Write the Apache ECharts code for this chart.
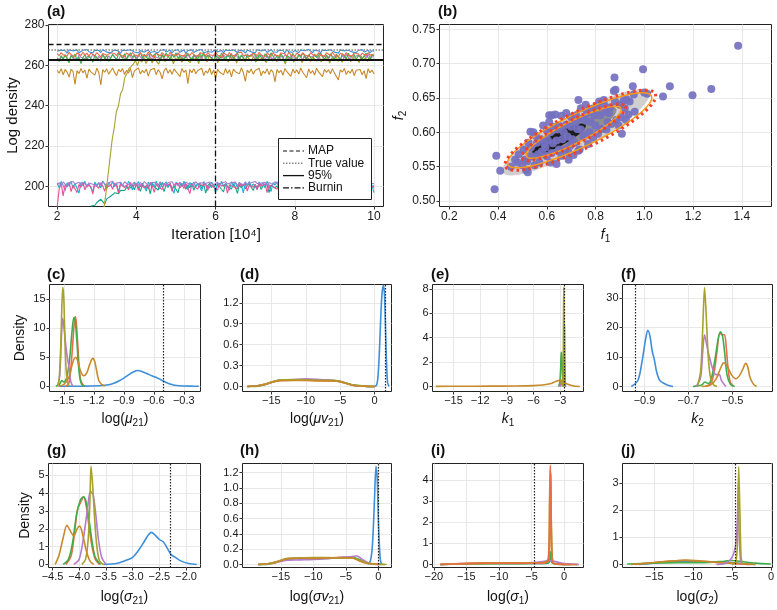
<!DOCTYPE html>
<html><head><meta charset="utf-8">
<script src="https://cdn.jsdelivr.net/npm/echarts@6/dist/echarts.min.js"></script>
<style>html,body{margin:0;padding:0;background:#fff}#c{width:777px;height:610px}</style>
</head><body><div id="c"></div>
<script>
// ---------- colours ----------
const COL = {blue:'#3D8FDA', red:'#EE6B47', green:'#3FAE4A', purple:'#B57BCD', olive:'#A6A22C', ochre:'#C78A2A',
  cyan:'#1BB3D0', pink:'#EA4F98', teal:'#11A586', lpurple:'#A57CD5'};
const F = 'Liberation Sans, Arial, sans-serif';

// ---------- (a) trace values, iterations 2..10 (x10^4) evenly sampled ----------
const traceBlue = [267.1,266.4,267.6,266.8,267.3,266.1,267.8,266.9,267.2,266.5,267.7,266.3,267.0,267.5,266.6,267.9,266.8,267.3,266.2,267.6,
266.9,267.4,266.4,267.8,267.0,266.6,267.5,266.3,267.2,267.7,266.8,267.1,266.0,267.6,266.9,267.4,266.5,267.8,267.1,266.7,
267.5,266.2,267.3,267.8,266.6,267.0,267.6,266.4,267.2,266.9,267.7,266.3,267.4,266.8,267.9,266.6,267.1,267.5,266.2,267.3,
266.9,267.8,266.5,267.2,267.6,266.1,267.4,266.8,267.7,266.4,267.0,267.5,266.7,267.9,266.3,267.2,266.9,267.6,266.5,267.3,
267.8,266.6,267.1,267.4,266.2,267.7,266.9,267.3,266.5,267.8,267.0,266.4,267.5,266.8,267.2,266.1,267.6,267.0,266.7,267.4,
266.3,267.8,266.9,267.2,266.6,267.7,266.4,267.3,267.9,266.8,267.1,266.5,267.6,266.9,267.4,266.2,267.8,266.7,267.2,266.5,
267.5,267.0,266.3,267.7,266.8,267.3,266.6,267.9,267.1,266.4,267.5,266.9,267.2,266.2,267.6,266.8,267.4,266.5,267.8,267.0,
266.6,267.3,266.1,267.7,266.9,267.2,266.4,267.5,267.0,266.7,267.6,266.3,267.4,266.8,267.9,266.6,267.1,267.5,266.2,267.3,267.0];
const traceRed = [265.9,264.8,266.4,265.2,266.0,264.5,266.6,265.4,265.8,264.1,266.3,265.6,264.9,266.5,265.1,266.1,264.6,266.2,265.3,264.8,
266.4,265.7,264.2,265.9,266.6,265.0,264.7,266.3,265.4,265.9,264.9,266.5,265.2,266.0,264.3,266.2,265.6,264.8,266.4,265.3,
266.0,264.6,266.3,265.1,265.8,264.9,266.6,265.5,265.1,263.9,266.1,265.7,264.8,266.4,265.2,265.9,264.5,266.5,265.4,265.7,
264.8,266.2,265.2,266.0,264.6,266.1,265.5,264.9,266.4,265.3,265.8,264.4,266.2,265.5,265.9,264.7,266.3,265.3,265.7,264.9,
266.5,265.1,266.0,264.2,266.3,265.6,264.8,266.4,265.0,265.9,264.6,266.2,265.4,266.6,264.9,265.7,265.2,266.1,264.5,266.3,
265.5,264.9,266.5,265.2,265.8,264.3,266.0,265.6,264.8,266.4,265.1,265.9,264.7,266.2,265.4,265.8,264.6,266.5,265.3,265.0,
264.4,266.1,265.6,264.9,266.3,265.2,265.9,264.5,266.4,265.4,265.7,264.8,266.2,265.1,266.0,264.6,266.3,265.5,264.9,266.5,
265.2,265.8,264.3,266.1,265.6,264.8,266.4,265.0,265.9,264.7,266.2,265.3,265.8,264.5,266.0,265.4,264.9,266.3,265.1,265.7,265.5];
const traceGreen = [263.6,261.9,264.8,263.0,265.4,263.2,261.3,264.9,263.7,265.7,262.5,264.2,260.9,264.0,265.3,262.8,264.7,263.4,261.6,265.1,
263.9,264.5,262.2,265.6,263.3,265.0,262.0,263.8,265.4,264.3,262.7,266.1,264.9,263.5,265.8,263.0,264.6,266.3,264.0,265.2,
262.6,264.8,266.4,263.7,265.5,264.2,262.9,265.9,264.4,263.6,266.2,265.0,262.5,265.3,263.9,266.0,264.7,263.0,265.6,264.1,
266.3,263.4,264.9,265.7,262.8,264.5,266.0,264.0,262.3,265.4,264.6,263.2,265.8,264.3,266.1,262.9,265.0,265.5,263.7,262.6,
264.9,265.6,263.3,266.2,264.4,262.7,265.3,264.0,265.9,263.5,264.8,266.1,263.1,265.2,264.6,262.4,265.7,264.2,263.6,266.0,
264.9,263.0,265.4,264.1,262.8,265.8,264.5,263.3,266.3,264.7,262.9,265.1,263.8,265.6,264.3,261.8,265.0,264.6,263.4,265.9,
264.2,262.6,265.5,263.9,266.1,264.8,263.1,265.3,264.4,262.3,265.7,264.0,263.5,266.2,264.6,262.9,265.2,263.7,265.8,264.3,
263.0,265.5,264.1,262.5,265.9,264.7,263.3,266.0,264.2,263.6,265.4,262.8,264.9,265.7,263.4,264.5,266.1,263.9,262.7,265.3,264.6];
const tracePurpleUp = [263.9,262.7,264.6,263.2,265.1,263.8,262.4,264.9,263.6,264.3,263.0,265.2,264.0,264.7,263.3,262.6,265.0,263.7,265.4,264.2,
262.9,264.5,263.4,265.3,264.1,262.8,264.8,263.5,265.5,264.0,264.4,262.5,265.1,263.9,264.7,263.2,265.6,264.3,263.0,264.9,
263.7,265.3,264.5,263.1,265.0,263.8,265.7,264.2,262.9,265.2,264.0,264.6,263.3,265.4,264.8,262.7,264.4,263.9,265.5,264.1,
263.4,265.8,264.6,263.2,265.0,263.7,265.3,264.3,263.0,264.9,263.6,265.1,264.7,263.3,265.6,264.2,263.8,265.0,263.5,265.2,
264.4,262.8,264.9,263.6,265.4,264.0,263.1,265.1,264.5,263.4,265.7,264.2,262.9,264.8,263.7,265.3,264.1,263.5,265.5,264.6,
263.2,264.9,263.8,265.2,264.3,262.6,265.0,263.9,264.7,263.4,265.6,264.1,263.0,264.8,263.6,265.4,264.4,263.1,265.1,263.8,
264.6,263.3,265.5,264.2,262.8,264.9,263.7,265.3,264.0,263.5,265.0,264.5,263.2,265.7,264.1,263.6,264.8,263.0,265.2,264.3,
263.9,265.4,264.6,263.1,264.9,263.7,265.6,264.2,262.9,265.1,264.0,263.4,265.3,264.7,263.3,264.8,263.8,265.5,264.1,263.6,264.3];
const traceOlive = [185,185,185,185,185,185,185,185,185,185,185,185,185,185,185,185,185,185,185,185,185,185,
188,196,205,214,223,229,237,240,246,248,254,256,258.5,259.4,260.6,
262.4,259.9,263.1,261.6,264.2,260.9,262.8,263.9,261.2,264.5,262.1,260.6,263.4,264.8,261.9,263.0,262.3,264.6,260.8,263.7,
262.5,264.1,261.6,263.5,265.0,262.2,261.4,264.3,262.9,263.8,260.9,264.7,262.6,263.2,261.8,264.9,263.4,262.0,264.4,261.3,
263.6,264.8,262.4,263.1,261.7,264.2,262.8,263.9,261.1,264.6,262.7,263.3,261.9,264.5,263.0,262.2,264.7,261.5,263.8,262.6,
264.0,262.9,261.4,263.7,264.9,262.1,263.5,261.8,264.3,262.7,263.4,260.7,264.6,262.3,263.9,261.6,264.1,262.8,263.2,261.3,
264.8,262.5,263.6,261.9,264.4,263.0,262.2,264.7,261.7,263.5,262.9,264.2,261.2,263.8,262.6,264.5,262.0,263.3,261.5,264.9,
262.4,263.7,261.8,264.0,262.8,263.1,261.4,264.6,262.7,263.9,261.9,264.3,262.5,263.4];
const traceOchre = [257.6,256.1,258.4,255.3,258.0,256.7,254.2,258.1,257.0,250.6,257.4,255.9,258.5,256.3,257.7,253.6,258.2,256.8,257.5,255.2,
258.6,256.5,250.3,257.9,256.6,258.3,255.7,257.2,258.7,256.4,254.9,258.0,256.9,258.4,255.5,257.6,256.2,258.5,254.0,257.3,
256.7,258.8,255.8,257.5,256.3,258.2,254.7,257.7,257.0,258.6,255.4,257.9,256.5,253.3,257.4,258.7,256.1,257.8,255.6,258.3,
256.9,257.2,254.5,258.5,256.6,257.7,251.0,258.0,256.4,258.4,255.9,257.5,256.8,258.6,255.0,257.3,256.2,258.7,255.5,257.8,
253.7,258.1,256.7,257.4,255.3,258.5,256.0,257.9,254.3,258.2,256.9,257.6,255.8,258.8,256.5,252.1,257.7,256.3,258.3,255.6,
257.5,256.8,258.6,254.8,257.2,256.1,258.4,255.4,257.9,256.7,251.8,258.0,256.4,257.6,255.1,258.5,256.9,257.3,254.6,258.2,
256.2,257.8,255.7,258.7,256.6,257.1,253.9,258.3,256.0,257.5,255.2,258.6,256.8,257.4,254.4,258.1,256.5,257.9,255.9,258.4,
256.3,257.0,252.8,257.8,256.7,258.5,255.5,257.3,256.1,258.2,254.9,257.6,256.9,258.0,255.3,257.4,253.5,258.3,256.4,257.7,255.8];
const traceCyan = [201.6,199.3,202.4,200.5,197.9,201.8,200.2,202.6,199.0,201.4,200.7,196.6,202.0,200.3,202.5,199.6,201.2,200.9,197.3,202.2,
200.5,201.7,199.2,202.7,201.0,198.5,201.9,200.4,202.3,199.8,201.5,196.9,202.1,200.6,201.3,199.4,202.5,200.8,198.2,201.7,
200.3,202.4,199.9,201.6,201.0,197.6,202.2,200.5,201.8,199.7,202.6,200.2,198.8,202.0,200.7,202.3,199.5,201.4,200.9,196.5,
202.1,200.4,201.7,200.0,202.5,200.6,198.4,201.9,200.3,202.2,199.6,201.5,201.0,197.7,202.4,200.8,201.6,199.3,202.1,200.5,
197.0,201.8,200.2,202.6,199.9,201.3,200.7,198.1,202.3,200.4,201.9,199.5,202.0,200.9,196.8,201.6,200.3,202.4,199.7,201.2,
200.8,198.6,202.2,200.5,201.7,199.2,202.5,200.1,197.4,201.9,200.6,202.3,199.8,201.4,200.9,198.3,202.1,200.4,201.6,199.5,
202.4,200.7,196.4,201.8,200.2,202.0,199.9,201.5,200.8,198.0,202.3,200.5,201.7,199.4,202.6,200.3,197.8,201.9,200.6,202.2,
199.7,201.3,200.9,196.7,202.1,200.4,201.6,199.1,202.4,200.8,198.5,201.8,200.3,202.0,199.6,201.5,200.7,197.2,202.3,200.5,196.9];
const tracePink = [190.0,198.6,201.5,195.3,200.9,199.7,202.0,197.4,200.6,201.3,196.9,201.0,199.5,201.7,198.3,200.8,201.4,199.9,196.2,201.1,
200.4,199.0,201.8,200.2,197.6,201.3,199.8,200.9,198.5,201.6,200.3,196.7,201.0,201.5,199.4,200.7,198.2,201.9,200.1,199.6,
201.2,198.0,200.8,201.4,199.3,200.5,198.7,201.7,200.2,197.0,201.1,199.9,200.7,198.4,201.5,200.3,199.7,201.3,197.5,200.9,
200.4,201.6,199.2,200.8,198.9,201.4,200.6,196.4,201.2,200.0,200.7,198.6,201.8,200.3,199.5,201.1,197.9,200.9,201.3,199.7,
200.5,198.1,201.6,200.2,199.4,201.0,196.6,200.8,201.5,199.8,200.4,198.8,201.7,200.1,199.3,201.2,197.7,200.6,201.4,199.6,
200.9,198.3,201.8,200.0,199.5,201.3,196.9,200.7,201.1,199.9,200.5,198.5,201.6,200.3,199.1,201.0,197.3,200.8,201.5,199.7,
200.2,198.7,201.9,200.4,199.6,201.2,196.3,200.6,201.4,199.8,200.3,198.2,201.7,200.1,199.4,201.1,197.6,200.9,201.3,199.5,
200.7,198.9,201.6,200.2,199.2,201.0,196.8,200.5,201.4,199.9,200.6,198.4,201.8,200.3,199.7,201.2,197.8,200.8,201.5,199.6,200.4];
const tracePurpleLow = [200.6,201.9,200.3,202.2,201.4,200.0,201.8,200.9,202.4,201.2,200.5,202.0,200.8,202.1,201.5,200.2,201.7,202.3,201.0,201.4,
199.9,201.9,200.7,202.2,201.3,200.4,201.8,201.1,202.5,200.6,201.6,200.9,202.0,200.3,202.3,201.5,200.8,201.7,201.0,202.1,
201.2,200.5,201.9,200.7,202.4,201.3,200.2,201.8,200.9,202.0,201.4,200.6,202.2,201.0,201.6,200.4,201.9,201.1,202.3,200.7,
201.5,200.8,202.0,201.3,200.3,202.1,201.2,200.9,201.7,200.5,202.4,201.1,200.7,201.8,201.0,201.4,200.6,202.2,201.5,200.8,
201.3,202.0,200.4,201.7,200.9,202.3,201.2,200.6,201.9,201.0,202.1,200.5,201.6,201.3,200.8,202.2,201.1,200.3,201.8,200.9,
202.4,201.4,200.7,201.6,201.0,202.0,200.5,201.9,201.2,200.8,202.3,201.5,200.4,201.7,201.1,202.1,200.6,201.8,200.9,201.4,
202.2,200.7,201.6,201.3,200.2,202.0,201.0,200.8,201.9,201.4,202.3,200.6,201.5,201.1,200.9,202.1,201.2,200.4,201.7,201.0,
202.4,200.8,201.6,201.3,200.5,202.0,201.1,200.7,201.8,201.2,202.2,200.6,201.5,201.0,200.9,202.3,201.4,200.3,201.7,201.1,201.3];
const traceTeal = [null,null,null,null,null,null,null,null,null,null,null,null,null,null,null,null,null,
190.2,191.0,190.6,192.0,192.8,193.6,192.4,191.2,193.8,194.6,195.1,195.6,196.8,197.6,196.4,198.1,198.7,197.9,199.4,200.1,199.2,200.6,
198.3,201.2,199.7,197.5,200.9,201.6,199.0,200.4,196.3,201.3,199.8,200.7,198.2,201.5,200.1,197.4,201.0,199.5,201.4,198.7,
200.3,201.1,196.8,200.6,199.9,201.3,198.5,200.8,199.3,201.6,198.0,200.5,199.7,201.2,198.9,201.0,196.6,200.4,201.5,199.4,
200.9,198.3,201.1,199.8,200.6,197.2,201.4,200.0,200.7,198.6,201.3,199.5,196.5,200.8,199.2,201.1,198.8,200.3,201.4,199.6,
197.9,200.9,199.3,201.2,198.4,200.5,199.9,201.0,196.9,200.6,201.3,199.1,200.2,198.7,201.5,199.7,200.4,197.6,201.1,199.4,
200.8,198.2,201.3,199.9,200.1,196.4,200.7,201.2,199.5,198.9,201.0,199.6,200.5,197.3,201.4,199.8,200.3,198.6,200.9,199.2,
201.1,196.7,200.6,199.9,201.3,198.4,200.2,199.7,197.8,200.8,199.3,201.0,198.5,200.4,199.6,197.1,200.7,199.0,198.2,196.6,200.1,199.4];
const refMAP = 270.5, refTrue = 268, ref95 = 262.6, refBurnin = 6;

// ---------- (b) scatter and contour ellipses ----------
const f1f2 = [[0.48,0.556],[0.485,0.568],[0.50,0.552],[0.505,0.575],[0.51,0.560],[0.52,0.558],[0.525,0.585],[0.515,0.545],
 [0.54,0.565],[0.545,0.600],[0.535,0.578],[0.55,0.552],[0.56,0.585],[0.565,0.568],[0.555,0.595],[0.57,0.556],
 [0.58,0.572],[0.585,0.610],[0.575,0.590],[0.59,0.583],[0.60,0.603],[0.605,0.588],[0.595,0.578],[0.60,0.565],[0.61,0.615],
 [0.62,0.625],[0.615,0.600],[0.625,0.584],[0.62,0.570],[0.63,0.608],[0.64,0.554],[0.645,0.604],[0.635,0.626],[0.64,0.588],[0.65,0.575],
 [0.66,0.624],[0.655,0.609],[0.665,0.590],[0.66,0.566],[0.67,0.600],[0.68,0.611],[0.685,0.594],[0.675,0.575],[0.68,0.628],[0.69,0.560],
 [0.70,0.608],[0.705,0.590],[0.695,0.580],[0.70,0.622],[0.71,0.567],[0.72,0.625],[0.725,0.605],[0.715,0.585],[0.72,0.615],[0.73,0.573],
 [0.74,0.604],[0.745,0.620],[0.735,0.575],[0.74,0.635],[0.75,0.594],[0.76,0.617],[0.765,0.628],[0.755,0.595],[0.76,0.640],[0.77,0.583],
 [0.78,0.615],[0.785,0.634],[0.775,0.600],[0.79,0.592],[0.80,0.610],[0.805,0.638],[0.795,0.625],[0.81,0.598],
 [0.82,0.625],[0.825,0.605],[0.815,0.645],[0.84,0.630],[0.845,0.604],[0.835,0.640],[0.85,0.615],
 [0.86,0.636],[0.865,0.612],[0.855,0.628],[0.88,0.645],[0.885,0.618],[0.875,0.660],[0.90,0.640],[0.905,0.622],[0.895,0.610],
 [0.92,0.635],[0.925,0.618],[0.915,0.646],[0.94,0.645],[0.935,0.626],
 [0.386,0.517],[0.393,0.566],[0.409,0.544],[0.453,0.550],[0.522,0.542],[0.533,0.601],[0.878,0.680],[0.995,0.692],[1.077,0.652],[1.105,0.667],
 [1.198,0.654],[1.275,0.663],[1.385,0.726],[0.953,0.667],[0.957,0.655],[1.0,0.658],[1.012,0.656],[0.908,0.598],[0.961,0.630],[0.882,0.662],
 [0.834,0.647],[0.927,0.648],[0.616,0.556],[0.47,0.560],[0.73,0.647],[0.61,0.625],[0.69,0.570]];
// ellipse: centre c, conjugate semi-axes u and w (data units)
const ellLightGray = {c:[0.72,0.600], u:[0.300,0.058], w:[0.030,-0.024]};
const ellDarkGray  = {c:[0.70,0.598], u:[0.185,0.036], w:[0.020,-0.015]};
const ellBlack     = {c:[0.65,0.590], u:[0.110,0.021], w:[0.012,-0.009]};
const ellOrangeOut = {c:[0.735,0.603], u:[0.295,0.050], w:[0.030,-0.022]};
const ellOrangeIn  = {c:[0.71,0.600], u:[0.195,0.035], w:[0.020,-0.0145]};
const ellRedOut    = {c:[0.738,0.603], u:[0.308,0.053], w:[0.033,-0.0245]};
const ellRedIn     = {c:[0.71,0.600], u:[0.212,0.038], w:[0.022,-0.016]};

// ---------- density curves [x, density] ----------
const dens_c = {
 blue:[[-1.55,0],[-1.3,0.02],[-1.15,0.1],[-1.05,0.25],[-1.0,0.5],[-0.95,0.9],[-0.9,1.4],[-0.85,2.0],[-0.8,2.5],[-0.76,2.7],[-0.72,2.55],[-0.67,2.2],[-0.62,1.8],[-0.57,1.45],[-0.52,1.05],[-0.47,0.6],[-0.42,0.3],[-0.37,0.12],[-0.3,0.04],[-0.2,0.01],[-0.15,0]],
 red:[[-1.48,0],[-1.45,0.5],[-1.43,3],[-1.41,7.5],[-1.395,11],[-1.385,12],[-1.375,11],[-1.36,7],[-1.345,3],[-1.33,1],[-1.3,0]],
 green:[[-1.58,0],[-1.54,0.4],[-1.52,1.0],[-1.5,0.7],[-1.47,1.5],[-1.44,5],[-1.42,9],[-1.4,11.8],[-1.385,11],[-1.37,8],[-1.355,4],[-1.34,1.5],[-1.32,0.3],[-1.29,0]],
 purple:[[-1.56,0],[-1.54,2],[-1.525,8],[-1.51,11.7],[-1.495,9.5],[-1.48,7],[-1.465,5],[-1.45,3.5],[-1.44,2],[-1.43,0.8],[-1.41,0]],
 olive:[[-1.56,0],[-1.545,1.5],[-1.53,7],[-1.52,13.5],[-1.51,17],[-1.5,15],[-1.49,9],[-1.48,4],[-1.47,1.5],[-1.455,0.3],[-1.44,0]],
 ochre:[[-1.55,0],[-1.5,0.3],[-1.45,1.5],[-1.42,3.5],[-1.4,4.6],[-1.38,5],[-1.36,4.3],[-1.33,2.5],[-1.3,1.8],[-1.27,2.3],[-1.24,3.8],[-1.21,4.8],[-1.19,4.2],[-1.17,2.5],[-1.15,1],[-1.12,0.3],[-1.09,0.05]]};
const dens_d = {
 blue:[[0,0],[0.3,0.02],[0.5,0.15],[0.7,0.5],[0.9,1.0],[1.1,1.35],[1.3,1.45],[1.45,1.3],[1.6,0.8],[1.75,0.3],[1.9,0.05],[2.1,0]],
 red:[[-18.5,0],[-17,0.01],[-16,0.03],[-15,0.06],[-14,0.085],[-12,0.09],[-10,0.09],[-8,0.085],[-6,0.08],[-5,0.07],[-4,0.04],[-3,0.015],[-1.5,0.003],[0,0]],
 green:[[-18.5,0],[-17,0.005],[-16,0.025],[-15,0.06],[-14,0.09],[-12,0.095],[-10,0.1],[-8,0.09],[-6,0.09],[-5,0.075],[-4,0.045],[-3,0.02],[-1.5,0.005],[0,0]],
 purple:[[-18.5,0],[-17,0.01],[-16,0.03],[-15,0.055],[-14,0.085],[-12,0.095],[-10,0.11],[-8,0.1],[-6,0.085],[-5,0.07],[-4,0.04],[-3,0.015],[-1.5,0.003],[0,0]],
 olive:[[-18.5,0],[-17,0.01],[-16,0.03],[-15,0.065],[-14,0.09],[-12,0.1],[-10,0.095],[-8,0.09],[-6,0.085],[-5,0.07],[-4,0.045],[-3,0.02],[-1.5,0.005],[0,0]],
 ochre:[[-18.5,0],[-17,0.01],[-16,0.025],[-15,0.06],[-14,0.08],[-12,0.085],[-10,0.085],[-8,0.08],[-6,0.08],[-5,0.07],[-4,0.04],[-3,0.015],[-1.5,0.003],[0,0]]};
const dens_e = {
 blue:[[-2.7,0],[-2.6,0.5],[-2.55,3],[-2.52,5],[-2.5,3.5],[-2.45,0.5],[-2.4,0]],
 red:[[-3.1,0],[-2.95,0.2],[-2.85,0.5],[-2.75,0.45],[-2.65,0.3],[-2.55,0.1],[-2.4,0]],
 green:[[-3.2,0],[-3.05,0.3],[-2.95,1.5],[-2.88,2.8],[-2.82,2.5],[-2.75,1],[-2.68,0.2],[-2.6,0]],
 purple:[[-3.0,0],[-2.85,0.2],[-2.75,0.4],[-2.65,0.25],[-2.5,0.05],[-2.4,0]],
 olive:[[-2.8,0],[-2.7,0.5],[-2.65,3],[-2.62,6.5],[-2.6,8.1],[-2.58,6],[-2.55,2],[-2.5,0.3],[-2.45,0]],
 ochre:[[-17,0.01],[-14,0.02],[-11,0.03],[-8,0.04],[-6,0.07],[-5,0.12],[-4,0.25],[-3.4,0.45],[-3,0.5],[-2.6,0.4],[-2.2,0.2],[-1.6,0.06],[-0.8,0]]};
const dens_f = {
 blue:[[-0.96,0],[-0.93,2],[-0.91,9],[-0.895,16],[-0.885,19],[-0.875,17],[-0.865,12],[-0.855,9],[-0.845,5],[-0.83,2],[-0.81,1],[-0.79,0.3],[-0.77,0]],
 red:[[-0.62,0],[-0.6,1],[-0.585,4],[-0.57,12],[-0.558,18],[-0.545,17.5],[-0.536,17.5],[-0.528,13],[-0.52,6],[-0.51,1.5],[-0.495,0]],
 green:[[-0.68,0],[-0.64,0.5],[-0.625,1.5],[-0.61,1],[-0.595,3],[-0.58,9],[-0.565,16],[-0.555,18.5],[-0.545,17],[-0.535,11],[-0.525,4],[-0.51,0.8],[-0.49,0]],
 purple:[[-0.665,0],[-0.645,3],[-0.635,12],[-0.627,17.5],[-0.617,14],[-0.605,10],[-0.59,6],[-0.575,4],[-0.56,4],[-0.55,2],[-0.53,0]],
 olive:[[-0.66,0],[-0.645,5],[-0.635,20],[-0.627,33.5],[-0.62,25],[-0.61,10],[-0.6,3],[-0.585,0.5],[-0.57,0]],
 ochre:[[-0.64,0],[-0.6,0.5],[-0.575,2.5],[-0.555,6],[-0.54,8],[-0.525,7],[-0.505,4],[-0.485,2.6],[-0.47,3.5],[-0.455,5.5],[-0.44,7.8],[-0.43,6.5],[-0.42,3],[-0.405,0.8],[-0.39,0]]};
const dens_g = {
 blue:[[-3.55,0],[-3.3,0.05],[-3.15,0.2],[-3.0,0.4],[-2.9,0.75],[-2.8,1.2],[-2.72,1.6],[-2.65,1.8],[-2.58,1.65],[-2.5,1.4],[-2.42,1.25],[-2.35,0.9],[-2.28,0.55],[-2.2,0.4],[-2.1,0.2],[-1.95,0.05],[-1.8,0]],
 red:[[-4.25,0],[-4.15,0.5],[-4.08,2],[-4.03,3.1],[-3.97,3.5],[-3.92,3.8],[-3.87,3.3],[-3.82,2.2],[-3.76,1],[-3.7,0.3],[-3.62,0]],
 green:[[-4.3,0],[-4.2,0.3],[-4.12,1.3],[-4.05,2.8],[-3.98,3.6],[-3.92,3.8],[-3.87,3.5],[-3.82,2.6],[-3.76,1.3],[-3.7,0.4],[-3.6,0]],
 purple:[[-4.1,0],[-4.0,0.3],[-3.92,1.5],[-3.85,3],[-3.79,4.1],[-3.74,3.9],[-3.69,2.8],[-3.64,1.4],[-3.58,0.4],[-3.5,0]],
 olive:[[-3.95,0],[-3.88,0.3],[-3.83,1.5],[-3.8,3.5],[-3.78,5.5],[-3.75,4.5],[-3.71,2.5],[-3.67,1],[-3.62,0.2],[-3.55,0]],
 ochre:[[-4.45,0],[-4.38,0.5],[-4.3,1.5],[-4.23,2.2],[-4.17,1.9],[-4.1,1.6],[-4.04,2.0],[-3.99,2.15],[-3.93,1.6],[-3.87,0.8],[-3.8,0.2],[-3.73,0]]};
const dens_h = {
 blue:[[-1.6,0],[-1.2,0.05],[-0.9,0.25],[-0.6,0.8],[-0.35,1.28],[-0.15,1.1],[0.05,0.5],[0.3,0.08],[0.5,0]],
 red:[[-18.5,0],[-17,0.01],[-16,0.03],[-15,0.05],[-14,0.07],[-12,0.08],[-10,0.085],[-8,0.085],[-6,0.09],[-4,0.09],[-3,0.06],[-2,0.03],[-1,0.01],[0.5,0]],
 green:[[-18.5,0],[-17,0.005],[-16,0.02],[-15,0.05],[-14,0.075],[-12,0.08],[-10,0.075],[-8,0.08],[-6,0.085],[-4,0.095],[-3,0.07],[-2,0.03],[-1,0.01],[1,0]],
 purple:[[-18.5,0],[-16,0.02],[-15,0.04],[-14,0.055],[-12,0.06],[-10,0.065],[-8,0.075],[-6,0.09],[-4,0.105],[-3.3,0.11],[-2.5,0.07],[-1.5,0.02],[0,0]],
 olive:[[-18.5,0],[-17,0.01],[-16,0.03],[-15,0.055],[-14,0.08],[-12,0.085],[-10,0.09],[-8,0.09],[-6,0.085],[-4,0.085],[-3,0.06],[-2,0.03],[-1,0.01],[1.3,0]],
 ochre:[[-18.5,0],[-16,0.02],[-15,0.05],[-14,0.075],[-12,0.085],[-10,0.08],[-8,0.085],[-6,0.09],[-4,0.085],[-3,0.05],[-2,0.02],[0,0]]};
const dens_i = {
 blue:[[-19,0],[-14,0.04],[-10,0.05],[-5,0.05],[-2.5,0.08],[-2.1,0.2],[-1.5,0.05],[1,0]],
 green:[[-19,0],[-16,0.02],[-12,0.04],[-8,0.04],[-5,0.05],[-3,0.05],[-2.3,0.1],[-2.1,0.6],[-1.9,0.1],[-1,0.02],[2.2,0]],
 purple:[[-19,0],[-14,0.06],[-10,0.06],[-6,0.07],[-3,0.15],[-2.3,0.2],[-1.5,0.15],[0,0.05],[2.3,0]],
 ochre:[[-19,0],[-15,0.06],[-12,0.08],[-8,0.08],[-5,0.08],[-3,0.1],[-2.3,0.3],[-2.15,2.5],[-2.05,4.3],[-1.9,1],[-1.6,0.05],[0,0]],
 olive:[[-19,0],[-15,0.03],[-10,0.05],[-5,0.06],[-3,0.1],[-2.4,0.3],[-2.2,3.5],[-2.1,4.6],[-1.95,2],[-1.7,0.1],[1,0]],
 red:[[-19,0],[-15,0.04],[-12,0.06],[-8,0.06],[-5,0.06],[-3,0.08],[-2.4,0.2],[-2.2,3],[-2.1,4.7],[-2.0,3],[-1.8,0.1],[0,0.01],[2,0]]};
const dens_j = {
 blue:[[-17,0],[-14,0.08],[-11,0.12],[-8,0.1],[-5,0.06],[-3,0.02],[-2,0]],
 red:[[-17.5,0],[-15,0.07],[-13,0.13],[-11,0.15],[-9,0.12],[-7,0.08],[-5.5,0.05],[-4,0.02],[-2.5,0]],
 green:[[-18.5,0.02],[-15,0.05],[-12,0.07],[-9,0.07],[-6,0.12],[-5,0.15],[-4,0.12],[-2,0.05],[0,0.02]],
 ochre:[[-18,0],[-16,0.05],[-14,0.1],[-12,0.15],[-11,0.16],[-9,0.13],[-7,0.08],[-5,0.05],[-3,0.02],[-2,0]],
 purple:[[-7,0],[-6,0.03],[-5.3,0.15],[-4.8,0.4],[-4.5,0.8],[-4.3,1.8],[-4.2,3.0],[-4.1,1.2],[-3.9,0.1],[-3.7,0]],
 olive:[[-5,0],[-4.5,0.1],[-4.3,1],[-4.15,3.6],[-4.0,2],[-3.85,0.3],[-3.7,0]]};
const trueVals = {c:-0.51, d:1.6, e:-2.55, f:-0.936, g:-2.3, h:0, i:-4.6, j:-4.6};

// ---------- tick labels ----------
const ticksA = {x:[2,4,6,8,10], y:[200,220,240,260,280]};
const ticksB = {x:[0.2,0.4,0.6,0.8,1.0,1.2,1.4], y:[0.50,0.55,0.60,0.65,0.70,0.75]};
const ticksC = {x:[-1.5,-1.2,-0.9,-0.6,-0.3], y:[0,5,10,15]};
const ticksD = {x:[-15,-10,-5,0], y:[0,0.3,0.6,0.9,1.2]};
const ticksE = {x:[-15,-12,-9,-6,-3], y:[0,2,4,6,8]};
const ticksF = {x:[-0.9,-0.7,-0.5], y:[0,10,20,30]};
const ticksG = {x:[-4.5,-4.0,-3.5,-3.0,-2.5,-2.0], y:[0,1,2,3,4,5]};
const ticksH = {x:[-15,-10,-5,0], y:[0,0.2,0.4,0.6,0.8,1.0,1.2]};
const ticksI = {x:[-20,-15,-10,-5,0], y:[0,1,2,3,4]};
const ticksJ = {x:[-15,-10,-5,0], y:[0,1,2,3]};

// ---------- layout ----------
const grids = [
 {left:48.5, top:24.5, width:335, height:182},
 {left:439.5, top:24.5, width:332, height:182},
 {left:49.5, top:284.5, width:151, height:107},
 {left:242.5, top:284.5, width:149, height:107},
 {left:432.5, top:284.5, width:151, height:107},
 {left:622.5, top:284.5, width:150, height:107},
 {left:48.5, top:463.5, width:152, height:104},
 {left:242.5, top:463.5, width:149, height:104},
 {left:432.5, top:463.5, width:151, height:104},
 {left:622.5, top:463.5, width:151, height:104}
].map(g => Object.assign({show:true, borderColor:'#222', borderWidth:1, backgroundColor:'#fff'}, g));

const fmt = dec => v => (dec ? v.toFixed(dec) : String(Math.round(v))).replace('-', '\u2212');
const richName = {
  n:{fontSize:14, lineHeight:18, fontFamily:F, color:'#111', verticalAlign:'middle'},
  i:{fontSize:14, lineHeight:18, fontFamily:F, color:'#111', fontStyle:'italic', verticalAlign:'middle'},
  s:{fontSize:10, lineHeight:10, fontFamily:F, color:'#111', verticalAlign:'bottom'}
};
function mkAxis(kind, gi, min, max, ticks, dec, name, gap, fs) {
  const a = {type:'value', gridIndex:gi, min, max,
    axisLine:{show:false, onZero:false},
    axisTick:{show:true, length:3, lineStyle:{color:'#333', width:1}, customValues:ticks},
    axisLabel:{customValues:ticks, formatter:fmt(dec), color:'#1a1a1a', fontSize:fs||11, fontFamily:F, margin:4},
    splitLine:{show:true, lineStyle:{color:'#e2e2e2', width:0.8}}};
  if (name) {
    a.name = name; a.nameLocation = 'middle'; a.nameGap = gap;
    a.nameTextStyle = {fontFamily:F, fontSize:14, color:'#111', rich:richName};
    if (kind === 'y') a.nameRotate = 90;
  }
  return a;
}
const xAxes = [
 Object.assign(mkAxis('x',0,1.78,10.24,ticksA.x,0,'Iteration [10\u2074]',21,12), {nameTextStyle:{fontFamily:F,fontSize:15,color:'#111'}}),
 mkAxis('x',1,0.16,1.522,ticksB.x,1,'{i|f}{s|1}',20,12),
 mkAxis('x',2,-1.643,-0.133,ticksC.x,1,'{n|log(}{i|\u03bc}{s|21}{n|)}',19),
 mkAxis('x',3,-19.2,2.46,ticksD.x,0,'{n|log(}{i|\u03bcv}{s|21}{n|)}',19),
 mkAxis('x',4,-17.36,-0.38,ticksE.x,0,'{i|k}{s|1}',19),
 mkAxis('x',5,-1.0,-0.318,ticksF.x,1,'{i|k}{s|2}',19),
 mkAxis('x',6,-4.575,-1.73,ticksG.x,1,'{n|log(}{i|\u03c3}{s|21}{n|)}',21),
 mkAxis('x',7,-20.9,2.04,ticksH.x,0,'{n|log(}{i|\u03c3v}{s|21}{n|)}',21),
 mkAxis('x',8,-20.2,2.99,ticksI.x,0,'{n|log(}{i|\u03c3}{s|1}{n|)}',21),
 mkAxis('x',9,-19.1,0.2,ticksJ.x,0,'{n|log(}{i|\u03c3}{s|2}{n|)}',21)
];
const yAxes = [
 Object.assign(mkAxis('y',0,190,280.3,ticksA.y,0,'Log density',26,12), {nameTextStyle:{fontFamily:F,fontSize:15,color:'#111'}}),
 mkAxis('y',1,0.492,0.757,ticksB.y,2,'{i|f}{s|2}',30,12),
 Object.assign(mkAxis('y',2,-0.9,17.5,ticksC.y,0,'Density',22), {nameTextStyle:{fontFamily:F,fontSize:14,color:'#111'}}),
 mkAxis('y',3,-0.072,1.462,ticksD.y,1),
 mkAxis('y',4,-0.41,8.35,ticksE.y,0),
 mkAxis('y',5,-1.7,34.5,ticksF.y,0),
 Object.assign(mkAxis('y',6,-0.17,5.66,ticksG.y,0,'Density',16), {nameTextStyle:{fontFamily:F,fontSize:14,color:'#111'}}),
 mkAxis('y',7,-0.039,1.317,ticksH.y,1),
 mkAxis('y',8,-0.14,4.79,ticksI.y,0),
 mkAxis('y',9,-0.11,3.72,ticksJ.y,0)
];

// ---------- series ----------
const series = [];
function trace(vals, color) {
  series.push({type:'line', xAxisIndex:0, yAxisIndex:0, symbol:'none', silent:true,
    data: vals.map((v,k) => [2 + k*8/(vals.length-1), v]), connectNulls:false,
    lineStyle:{color, width:1.1}});
}
trace(traceTeal, COL.teal); trace(traceCyan, COL.cyan); trace(tracePink, COL.pink); trace(tracePurpleLow, COL.lpurple);
trace(traceOchre, COL.ochre); trace(traceOlive, COL.olive); trace(tracePurpleUp, COL.purple);
trace(traceGreen, COL.green); trace(traceRed, COL.red); trace(traceBlue, COL.blue);
series.push({type:'line', xAxisIndex:0, yAxisIndex:0, data:[], symbol:'none', silent:true,
  markLine:{symbol:'none', silent:true, label:{show:false}, animation:false, data:[
    {yAxis:refMAP, lineStyle:{color:'#111', width:1.3, type:[5,3]}},
    {yAxis:refTrue, lineStyle:{color:'#888', width:1.5, type:[1.5,1.5]}},
    {yAxis:ref95, lineStyle:{color:'#111', width:2, type:'solid'}},
    {xAxis:refBurnin, lineStyle:{color:'#111', width:1.3, type:[6,2.5,1.5,2.5]}}
  ]}});

function ellipsePts(e) {
  const pts = [];
  for (let k = 0; k <= 120; k++) { const t = k/120*2*Math.PI;
    pts.push([e.c[0]+e.u[0]*Math.cos(t)+e.w[0]*Math.sin(t), e.c[1]+e.u[1]*Math.cos(t)+e.w[1]*Math.sin(t)]); }
  return pts;
}
function fillEll(e, color) {
  const pts = ellipsePts(e);
  series.push({type:'custom', xAxisIndex:1, yAxisIndex:1, silent:true, data:[[e.c[0], e.c[1]]],
    renderItem:(p, api) => ({type:'polygon', shape:{points: pts.map(q => api.coord(q))}, style:{fill:color}})});
}
function lineEll(e, ls) {
  series.push({type:'line', xAxisIndex:1, yAxisIndex:1, symbol:'none', silent:true, data: ellipsePts(e), lineStyle:ls});
}
fillEll(ellLightGray, '#cfcfcf'); fillEll(ellDarkGray, '#8f8f8f'); fillEll(ellBlack, '#1c1c1c');
series.push({type:'scatter', xAxisIndex:1, yAxisIndex:1, data:f1f2, symbolSize:8, silent:true,
  itemStyle:{color:'#7471C0', opacity:0.92}});
lineEll(ellOrangeOut, {color:'#FF9A14', width:1.5});
lineEll(ellOrangeIn, {color:'#FF9A14', width:1.5});
lineEll(ellRedOut, {color:'#F2402A', width:3, type:[2.5,3.5]});
lineEll(ellRedIn, {color:'#F2402A', width:3, type:[2.5,3.5]});

const densPanels = [['c',dens_c,2],['d',dens_d,3],['e',dens_e,4],['f',dens_f,5],['g',dens_g,6],['h',dens_h,7],['i',dens_i,8],['j',dens_j,9]];
densPanels.forEach(([key, d, gi]) => {
  Object.keys(d).forEach(ch => {
    series.push({type:'line', xAxisIndex:gi, yAxisIndex:gi, symbol:'none', silent:true, smooth:0.3,
      data:d[ch], lineStyle:{color:COL[ch], width:1.6}});
  });
  series.push({type:'line', xAxisIndex:gi, yAxisIndex:gi, data:[], symbol:'none', silent:true,
    markLine:{symbol:'none', silent:true, label:{show:false}, animation:false,
      data:[{xAxis:trueVals[key], lineStyle:{color:'#222', width:1.2, type:[1.5,1.5]}}]}});
});

// ---------- panel letters & legend ----------
const letters = [['(a)',47,4],['(b)',438,4],['(c)',47,267],['(d)',240,267],['(e)',431,267],['(f)',621,267],['(g)',47,443],['(h)',240,443],['(i)',431,443],['(j)',621,443]];
const graphic = letters.map(([t,x,y]) => ({type:'text', x, y, z:100,
  style:{text:t, font:'bold 15px ' + F, fill:'#111', textVerticalAlign:'top'}}));
const lg = [['MAP',[4,2.5],'#111',1.2],['True value',[1.5,1.5],'#888',1.5],['95%',null,'#111',1.3],['Burnin',[6,2,1.5,2],'#111',1.2]];
graphic.push({type:'rect', z:100, shape:{x:278.5,y:138.5,width:93,height:61}, style:{fill:'#fff', stroke:'#222', lineWidth:1}});
lg.forEach(([t,dash,c,w],k) => {
  const y = 151 + k*12.3;
  graphic.push({type:'line', z:101, shape:{x1:283,y1:y,x2:304,y2:y}, style:{stroke:c, lineWidth:w, lineDash:dash}});
  graphic.push({type:'text', z:101, x:308, y, style:{text:t, font:'12px ' + F, fill:'#111', textVerticalAlign:'middle'}});
});

const chart = echarts.init(document.getElementById('c'), null, {renderer:'canvas'});
chart.setOption({animation:false, backgroundColor:'#fff', grid:grids, xAxis:xAxes, yAxis:yAxes, series, graphic});
</script></body></html>
